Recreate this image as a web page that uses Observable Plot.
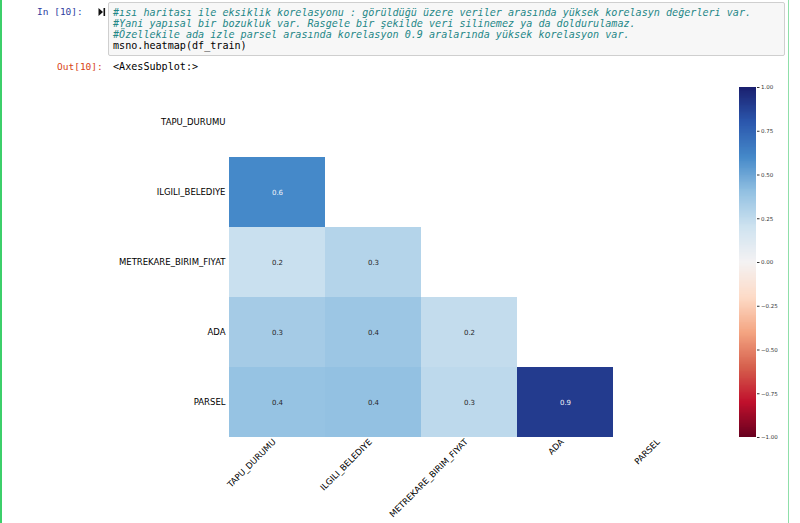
<!DOCTYPE html>
<html>
<head>
<meta charset="utf-8">
<script src="https://cdn.jsdelivr.net/npm/d3@7"></script>
<script src="https://cdn.jsdelivr.net/npm/@observablehq/plot@0.6"></script>
<style>
  html, body { margin: 0; padding: 0; background: #fff; }
  body { width: 800px; height: 523px; position: relative; overflow: hidden; }
  .greenL { position: absolute; left: 0; top: 0; width: 2px; height: 523px; background: #3ccf6a; }
  .greenR { position: absolute; left: 788px; top: 0; width: 1px; height: 523px; background: #8fdfa9; }
  .prompt { position: absolute; font-family: "DejaVu Sans Mono", monospace; font-size: 9.5px; line-height: 11px; white-space: pre; }
  .in { left: 37px; top: 6px; color: #303F9F; }
  .out { left: 57px; top: 61px; color: #D84315; }
  .codebox { position: absolute; left: 108px; top: 2px; width: 675px; height: 52px; background: #f7f7f7; border: 1px solid #cfcfcf; border-radius: 2px; }
  .code { position: absolute; left: 113px; top: 6.5px; font-family: "DejaVu Sans Mono", monospace; font-size: 10.1px; line-height: 11px; white-space: pre; color: #000; }
  .cm { color: #1f8787; font-style: italic; }
  .outtext { position: absolute; left: 113px; top: 61px; font-family: "DejaVu Sans Mono", monospace; font-size: 10.1px; line-height: 11px; white-space: pre; color: #000; }
  .icon { position: absolute; left: 98px; top: 7px; }
  #main { position: absolute; left: 0; top: 80px; }
  #cbar { position: absolute; left: 739px; top: 80px; }
</style>
</head>
<body>
<div class="greenL"></div>
<div class="greenR"></div>
<div class="prompt in">In [10]:</div>
<svg class="icon" width="8" height="10" viewBox="0 0 8 10"><path d="M0.5 1 L5 5 L0.5 9 Z" fill="#111"/><rect x="5.5" y="1" width="1.6" height="8" fill="#111"/></svg>
<div class="codebox"></div>
<div class="code"><span class="cm">#ısı haritası ile eksiklik korelasyonu : görüldüğü üzere veriler arasında yüksek korelasyn değerleri var.</span>
<span class="cm">#Yani yapısal bir bozukluk var. Rasgele bir şekilde veri silinemez ya da doldurulamaz.</span>
<span class="cm">#Özellekile ada izle parsel arasında korelasyon 0.9 aralarında yüksek korelasyon var.</span>
msno.heatmap(df_train)</div>
<div class="prompt out">Out[10]:</div>
<div class="outtext">&lt;AxesSubplot:&gt;</div>
<div id="main"></div>
<div id="cbar"></div>
<script>
// ---- data ----
const labels = ["TAPU_DURUMU", "ILGILI_BELEDIYE", "METREKARE_BIRIM_FIYAT", "ADA", "PARSEL"];
// lower triangle of the nullity correlation matrix (row i, columns 0..i-1)
const nullityCorr = [
  [],
  [0.60],
  [0.22, 0.29],
  [0.34, 0.37, 0.24],
  [0.39, 0.40, 0.26, 0.90]
];
const colorbarTicks = [-1, -0.75, -0.5, -0.25, 0, 0.25, 0.5, 0.75, 1];
const colorStops = [-1, -0.8, -0.6, -0.4, -0.2, 0, 0.2, 0.4, 0.6, 0.8, 1];
const colorRange = ["#67001f", "#c0102c", "#d6604d", "#f4a582", "#fddbc7", "#f4f2f3",
                    "#cfe3f0", "#93c1e2", "#4589c9", "#2b57ad", "#1a1f6e"];

const table = [];
nullityCorr.forEach((row, i) => row.forEach((v, j) => table.push({row: labels[i], col: labels[j], value: v})));

const colorScale = {type: "linear", domain: colorStops, range: colorRange, interpolate: "rgb"};

const main = Plot.plot({
  width: 800, height: 443,
  marginLeft: 229, marginRight: 91, marginTop: 7, marginBottom: 86,
  style: {fontFamily: "DejaVu Sans, sans-serif", fontSize: "8.5px", color: "#000", background: "transparent", overflow: "visible"},
  y: {domain: labels, padding: 0, label: null, tickSize: 0, tickPadding: 4},
  x: {domain: labels, padding: 0},
  color: colorScale,
  marks: [
    Plot.cell(table, {x: "col", y: "row", fill: "value", shapeRendering: "crispEdges"}),
    Plot.text(table, {filter: d => Math.abs(d.value) > 0.5, x: "col", y: "row", text: d => d.value.toFixed(1), fill: "#eef2f8", fontSize: 7, fontFamily: "DejaVu Sans, sans-serif"}),
    Plot.text(table, {filter: d => Math.abs(d.value) <= 0.5, x: "col", y: "row", text: d => d.value.toFixed(1), fill: "#262626", fontSize: 7, fontFamily: "DejaVu Sans, sans-serif"}),
    Plot.axisX({label: null, tickRotate: -45, tickSize: 0, tickPadding: 3, dx: -3})
  ]
});
document.getElementById("main").append(main);

const steps = d3.range(-1, 1, 0.005);
const cbar = Plot.plot({
  width: 61, height: 443,
  marginLeft: 0, marginRight: 44, marginTop: 7, marginBottom: 86,
  style: {fontFamily: "DejaVu Sans, sans-serif", fontSize: "5.5px", color: "#333", background: "transparent", overflow: "visible"},
  x: {domain: [0, 1], axis: null},
  y: {domain: [-1, 1], axis: "right", ticks: colorbarTicks, label: null, tickSize: 2.5, tickPadding: 2,
      tickFormat: d => (d < 0 ? "\u2212" : "") + Math.abs(d).toFixed(2)},
  color: colorScale,
  marks: [
    Plot.rect(steps, {x1: 0, x2: 1, y1: d => d, y2: d => Math.min(1, d + 0.0065), fill: d => d + 0.0025, shapeRendering: "crispEdges"})
  ]
});
document.getElementById("cbar").append(cbar);
</script>
</body>
</html>
